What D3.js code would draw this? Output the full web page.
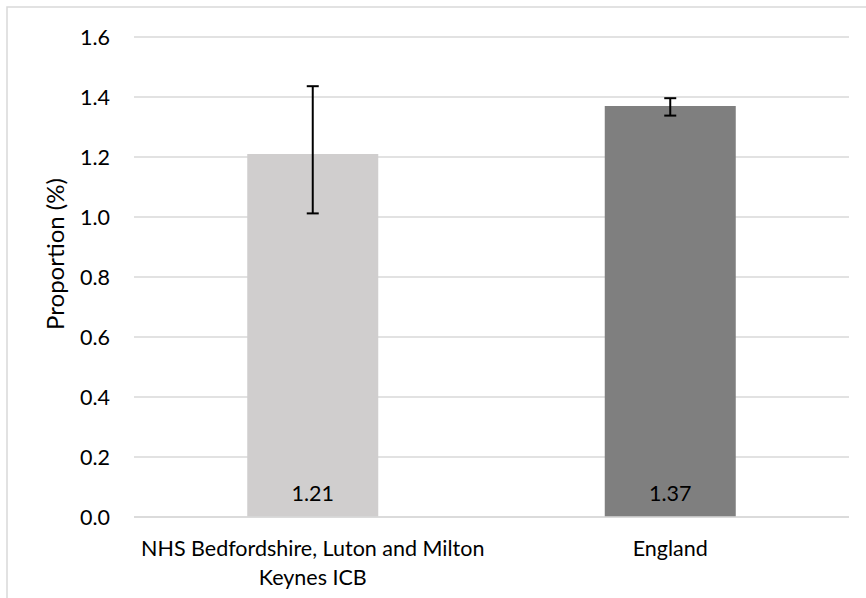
<!DOCTYPE html>
<html><head><meta charset="utf-8">
<script src="https://cdn.jsdelivr.net/npm/d3@7"></script>
<style>body{margin:0;background:#fff;}svg{display:block;font-family:Lato,"Open Sans",sans-serif;}</style>
</head><body>
<svg id="c" width="866" height="598"></svg>
<script>
const categories = ["NHS Bedfordshire, Luton and Milton Keynes ICB", "England"];
const categoryLines = [["NHS Bedfordshire, Luton and Milton", "Keynes ICB"], ["England"]];
const values = [1.21, 1.37];
const lower = [1.012, 1.338];
const upper = [1.436, 1.396];
const colors = ["#d0cece", "#7f7f7f"];
const yTicks = [0, 0.2, 0.4, 0.6, 0.8, 1.0, 1.2, 1.4, 1.6];

(function(){
const FS = 21.5;
const svg = d3.select("#c");
svg.append("rect").attr("x",7).attr("y",7).attr("width",900).attr("height",700)
  .attr("fill","none").attr("stroke","#d9d9d9").attr("stroke-width",1.5);

const pLeft=134, pRight=849, pTop=37, pBottom=517;
const y = d3.scaleLinear().domain([0,1.6]).range([pBottom,pTop]);
const x = d3.scaleBand().domain(categories).range([pLeft,pRight]).padding(0);
const bw = 131;

svg.append("g").selectAll("line").data(yTicks).join("line")
  .attr("x1",pLeft).attr("x2",pRight).attr("y1",d=>y(d)).attr("y2",d=>y(d))
  .attr("stroke","#d9d9d9").attr("stroke-width",1.3);

svg.append("g").selectAll("text").data(yTicks).join("text")
  .attr("x",110).attr("y",d=>y(d)).attr("dy","0.36em").attr("text-anchor","end")
  .attr("font-size",FS).attr("fill","#000").text(d=>d.toFixed(1));

const cx = d => x(d)+x.bandwidth()/2;
svg.append("g").selectAll("rect").data(categories).join("rect")
  .attr("x",d=>cx(d)-bw/2).attr("width",bw)
  .attr("y",(d,i)=>y(values[i])).attr("height",(d,i)=>y(0)-y(values[i]))
  .attr("fill",(d,i)=>colors[i]);

svg.append("line").attr("x1",pLeft).attr("x2",pRight).attr("y1",y(0)).attr("y2",y(0))
  .attr("stroke","#d9d9d9").attr("stroke-width",1.3);

const eb = svg.append("g").attr("stroke","#000").attr("stroke-width",2);
categories.forEach((c,i)=>{
  const xc = cx(c);
  eb.append("line").attr("x1",xc).attr("x2",xc).attr("y1",y(lower[i])).attr("y2",y(upper[i]));
  eb.append("line").attr("x1",xc-6).attr("x2",xc+6).attr("y1",y(lower[i])).attr("y2",y(lower[i]));
  eb.append("line").attr("x1",xc-6).attr("x2",xc+6).attr("y1",y(upper[i])).attr("y2",y(upper[i]));
});

svg.append("g").selectAll("text").data(categories).join("text")
  .attr("x",d=>cx(d)).attr("y",493).attr("dy","0.36em").attr("text-anchor","middle")
  .attr("font-size",FS).attr("fill","#000").text((d,i)=>values[i].toFixed(2));

categories.forEach((c,i)=>{
  const t = svg.append("text").attr("x",cx(c)).attr("y",548)
    .attr("text-anchor","middle").attr("font-size",FS).attr("fill","#000");
  categoryLines[i].forEach((l,j)=>{
    t.append("tspan").attr("x",cx(c)).attr("dy", j===0 ? "0.36em" : 29).text(l);
  });
});

svg.append("text").attr("transform","translate(55,254) rotate(-90)")
  .attr("text-anchor","middle").attr("dy","0.36em").attr("font-size",24).attr("fill","#000")
  .text("Proportion (%)");
})();
</script>
</body></html>
